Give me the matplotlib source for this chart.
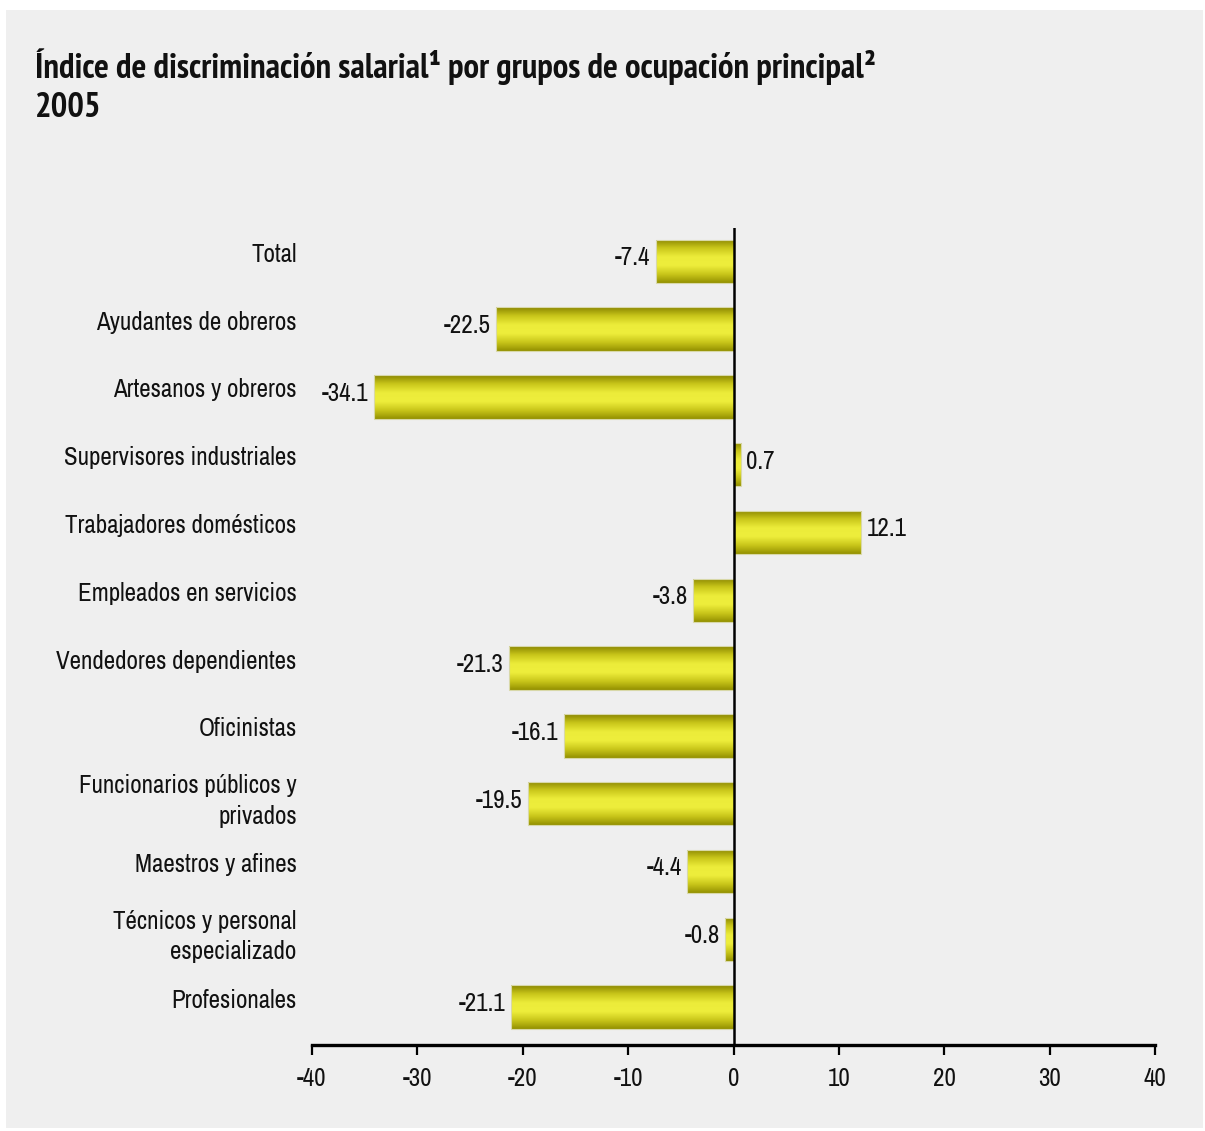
import numpy as np
import matplotlib
matplotlib.use("Agg")
import matplotlib.pyplot as plt
from matplotlib.colors import LinearSegmentedColormap
from matplotlib.patches import Rectangle

plt.rcParams["font.family"] = ["Archivo Narrow", "Liberation Sans", "DejaVu Sans"]

categorias = [
    "Total",
    "Ayudantes de obreros",
    "Artesanos y obreros",
    "Supervisores industriales",
    "Trabajadores domésticos",
    "Empleados en servicios",
    "Vendedores dependientes",
    "Oficinistas",
    "Funcionarios públicos y\nprivados",
    "Maestros y afines",
    "Técnicos y personal\nespecializado",
    "Profesionales",
]
indice = [-7.4, -22.5, -34.1, 0.7, 12.1, -3.8, -21.3, -16.1, -19.5, -4.4, -0.8, -21.1]
ticks_x = [-40, -30, -20, -10, 0, 10, 20, 30, 40]

fig = plt.figure(figsize=(12.05, 11.31), dpi=100)
fig.patch.set_facecolor("white")
# panel gris de fondo
fondo = Rectangle((6 / 1205, 3 / 1131), 1197 / 1205, 1118 / 1131,
                  transform=fig.transFigure, facecolor="#efefef",
                  edgecolor="none", zorder=-5)
fig.add_artist(fondo)

ax = fig.add_axes([312 / 1205, 86 / 1131, 843 / 1205, 817 / 1131])
ax.set_facecolor("none")

y = np.arange(len(categorias))
bars = ax.barh(y, indice, height=0.64, color="none", edgecolor="#d8d8a8",
               linewidth=0.8, zorder=3)

# degradado vertical de las barras
cmap = LinearSegmentedColormap.from_list(
    "oliva", ["#8a8600", "#c9c61a", "#ecec3a", "#eeee3c", "#c9c61a", "#939000"])
grad = np.linspace(0, 1, 256).reshape(-1, 1)
for b in bars:
    x0, y0, w, h = b.get_x(), b.get_y(), b.get_width(), b.get_height()
    im = ax.imshow(grad, cmap=cmap, aspect="auto", zorder=2,
                   extent=[min(x0, x0 + w), max(x0, x0 + w), y0 + h, y0],
                   interpolation="bicubic")
    im.set_clip_path(b)

ax.set_xlim(-40, 40)
ax.set_ylim(11.56, -0.49)
ax.axvline(0, color="black", linewidth=1.8, zorder=4)

for s in ["top", "right", "left"]:
    ax.spines[s].set_visible(False)
ax.spines["bottom"].set_linewidth(2.4)
ax.set_xticks(ticks_x)
ax.set_xticklabels([str(t) for t in ticks_x], fontsize=18, color="#111111")
ax.tick_params(axis="x", direction="out", length=7, width=1.6, pad=9)
ax.set_yticks([])

for yi, cat in zip(y, categorias):
    dy = 2 if "\n" in cat else 5
    ax.annotate(cat, xy=(0, yi), xycoords=("axes fraction", "data"),
                xytext=(-11, dy), textcoords="offset points",
                ha="right", va="center", fontsize=18, color="#111111",
                linespacing=1.4)

for yi, v in zip(y, indice):
    ha = "left" if v > 0 else "right"
    dx = 4 if v > 0 else -4
    ax.annotate(f"{v:.1f}", xy=(v, yi), xytext=(dx, 2.5), textcoords="offset points",
                ha=ha, va="center", fontsize=18, color="#111111")

titulo = dict(fontsize=25, fontweight="bold", ha="left", va="baseline",
              color="#111111", family=["PT Sans Narrow", "Liberation Sans", "DejaVu Sans"])
fig.text(35 / 1205, 1 - 78 / 1131,
         "Índice de discriminación salarial¹ por grupos de ocupación principal²", **titulo)
fig.text(35 / 1205, 1 - 117 / 1131, "2005", **titulo)

fig.savefig("out.png", dpi=100, facecolor=fig.get_facecolor())
